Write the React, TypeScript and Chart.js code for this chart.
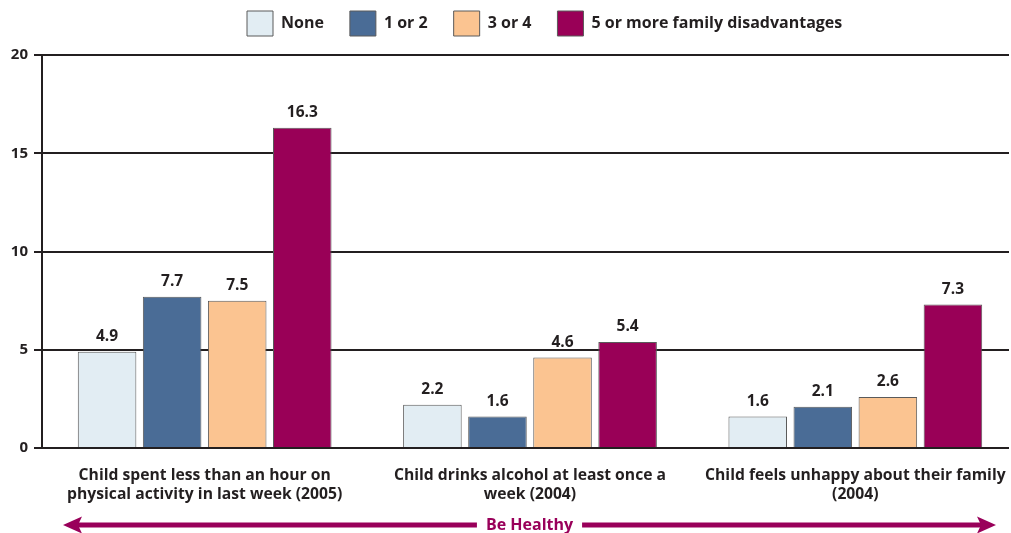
import React, { useEffect, useRef } from "react";
import { Chart, registerables } from "chart.js";

Chart.register(...registerables);

// ---- data ----
const categories: string[][] = [
  ["Child spent less than an hour on", "physical activity in last week (2005)"],
  ["Child drinks alcohol at least once a", "week (2004)"],
  ["Child feels unhappy about their family", "(2004)"],
];
const seriesNames = ["None", "1 or 2", "3 or 4", "5 or more family disadvantages"];
const noneValues = [4.9, 2.2, 1.6];
const oneOrTwoValues = [7.7, 1.6, 2.1];
const threeOrFourValues = [7.5, 4.6, 2.6];
const fiveOrMoreValues = [16.3, 5.4, 7.3];
const yTickValues = [0, 5, 10, 15, 20];
const bandLabel = "Be Healthy";

// ---- styles ----
const seriesColors = ["#e2edf3", "#4a6c96", "#fbc491", "#990057"];
const INK = "#231f20";
const BAND = "#99005a";
const FONT = "'Open Sans', 'DejaVu Sans', sans-serif";

const valueLabelPlugin = {
  id: "valueLabels",
  afterDatasetsDraw(chart: any) {
    const ctx = chart.ctx;
    ctx.save();
    ctx.font = `bold 15.5px ${FONT}`;
    ctx.fillStyle = INK;
    ctx.textAlign = "center";
    ctx.textBaseline = "middle";
    chart.data.datasets.forEach((ds: any, di: number) => {
      const meta = chart.getDatasetMeta(di);
      meta.data.forEach((bar: any, i: number) => {
        ctx.fillText(Number(ds.data[i]).toFixed(1), bar.x, bar.y - 15);
      });
    });
    ctx.restore();
  },
};

const bandPlugin = {
  id: "bandArrow",
  afterDraw(chart: any) {
    const ctx = chart.ctx;
    const area = chart.chartArea;
    const y = area.bottom + 77;
    const left = area.left + 21;
    const right = area.right - 22;
    const mid = (left + right) / 2;
    ctx.save();
    ctx.font = `bold 16px ${FONT}`;
    const tw = ctx.measureText(bandLabel).width;
    const gap = 9;
    ctx.fillStyle = BAND;
    ctx.strokeStyle = BAND;
    ctx.lineWidth = 5;
    ctx.beginPath();
    ctx.moveTo(left + 14, y);
    ctx.lineTo(mid - tw / 2 - gap, y);
    ctx.moveTo(mid + tw / 2 + gap, y);
    ctx.lineTo(right - 14, y);
    ctx.stroke();
    // heads
    const hl = 19, hh = 8.5, notch = 4;
    ctx.beginPath();
    ctx.moveTo(left, y);
    ctx.lineTo(left + hl, y - hh);
    ctx.lineTo(left + hl - notch, y);
    ctx.lineTo(left + hl, y + hh);
    ctx.closePath();
    ctx.fill();
    ctx.beginPath();
    ctx.moveTo(right, y);
    ctx.lineTo(right - hl, y - hh);
    ctx.lineTo(right - hl + notch, y);
    ctx.lineTo(right - hl, y + hh);
    ctx.closePath();
    ctx.fill();
    ctx.textAlign = "center";
    ctx.textBaseline = "middle";
    ctx.fillText(bandLabel, mid, y);
    ctx.restore();
  },
};

const LEGEND_HEIGHT = 55;
const LEGEND_PAD = 26;
const LEGEND_START = 247;
const LEGEND_BOX_TOP = 11;

const legendPlacePlugin = {
  id: "legendPlace",
  beforeLayout(chart: any) {
    const lg = chart.legend;
    if (lg && !lg.__patched) {
      const orig = lg.fit.bind(lg);
      lg.fit = () => {
        orig();
        lg.height = LEGEND_HEIGHT;
      };
      lg.__patched = true;
    }
  },
  afterLayout(chart: any) {
    const lg = chart.legend;
    if (!lg) return;
    lg.left = LEGEND_START - LEGEND_PAD;
    const dy = LEGEND_BOX_TOP - LEGEND_PAD - lg.top;
    lg.top += dy;
    lg.bottom += dy;
  },
};

export default function App() {
  const ref = useRef<HTMLCanvasElement | null>(null);

  useEffect(() => {
    if (!ref.current) return;
    const valueSets = [noneValues, oneOrTwoValues, threeOrFourValues, fiveOrMoreValues];
    const chart = new Chart(ref.current, {
      type: "bar",
      data: {
        labels: categories,
        datasets: seriesNames.map((name, i) => ({
          label: name,
          data: valueSets[i],
          backgroundColor: seriesColors[i],
          borderColor: "#5a5a5a",
          borderWidth: 1,
          categoryPercentage: 0.8,
          barPercentage: 0.9,
        })),
      },
      options: {
        responsive: false,
        animation: false,
        devicePixelRatio: 1,
        layout: { padding: { left: 0, right: 2, top: 0, bottom: 19 } },
        plugins: {
          tooltip: { enabled: false },
          legend: {
            position: "top",
            align: "start",
            labels: {
              boxWidth: 26,
              boxHeight: 25,
              padding: LEGEND_PAD,
              color: INK,
              font: { family: FONT, size: 16, weight: "bold" },
            },
          },
        },
        scales: {
          x: {
            type: "category",
            offset: true,
            grid: { display: false },
            border: { display: false },
            ticks: {
              color: INK,
              padding: 10,
              maxRotation: 0,
              autoSkip: false,
              font: { family: FONT, size: 15.7, weight: "bold", lineHeight: 1.21 },
            },
          },
          y: {
            min: 0,
            max: 20,
            afterFit(scale: any) {
              scale.width = 42;
            },
            afterBuildTicks(scale: any) {
              scale.ticks = yTickValues.map((v) => ({ value: v }));
            },
            grid: { color: INK, lineWidth: 2, tickLength: 8, drawTicks: true },
            border: { display: true, color: INK, width: 2 },
            ticks: {
              color: INK,
              padding: 6,
              font: { family: FONT, size: 15, weight: "bold" },
            },
          },
        },
      },
      plugins: [valueLabelPlugin, bandPlugin, legendPlacePlugin],
    } as any);
    return () => chart.destroy();
  }, []);

  return (
    <div
      style={{
        position: "fixed",
        left: 0,
        top: 0,
        width: 1009,
        height: 533,
        overflow: "hidden",
        background: "#fff",
      }}
    >
      <canvas ref={ref} width={1020} height={533} style={{ display: "block" }} />
    </div>
  );
}
